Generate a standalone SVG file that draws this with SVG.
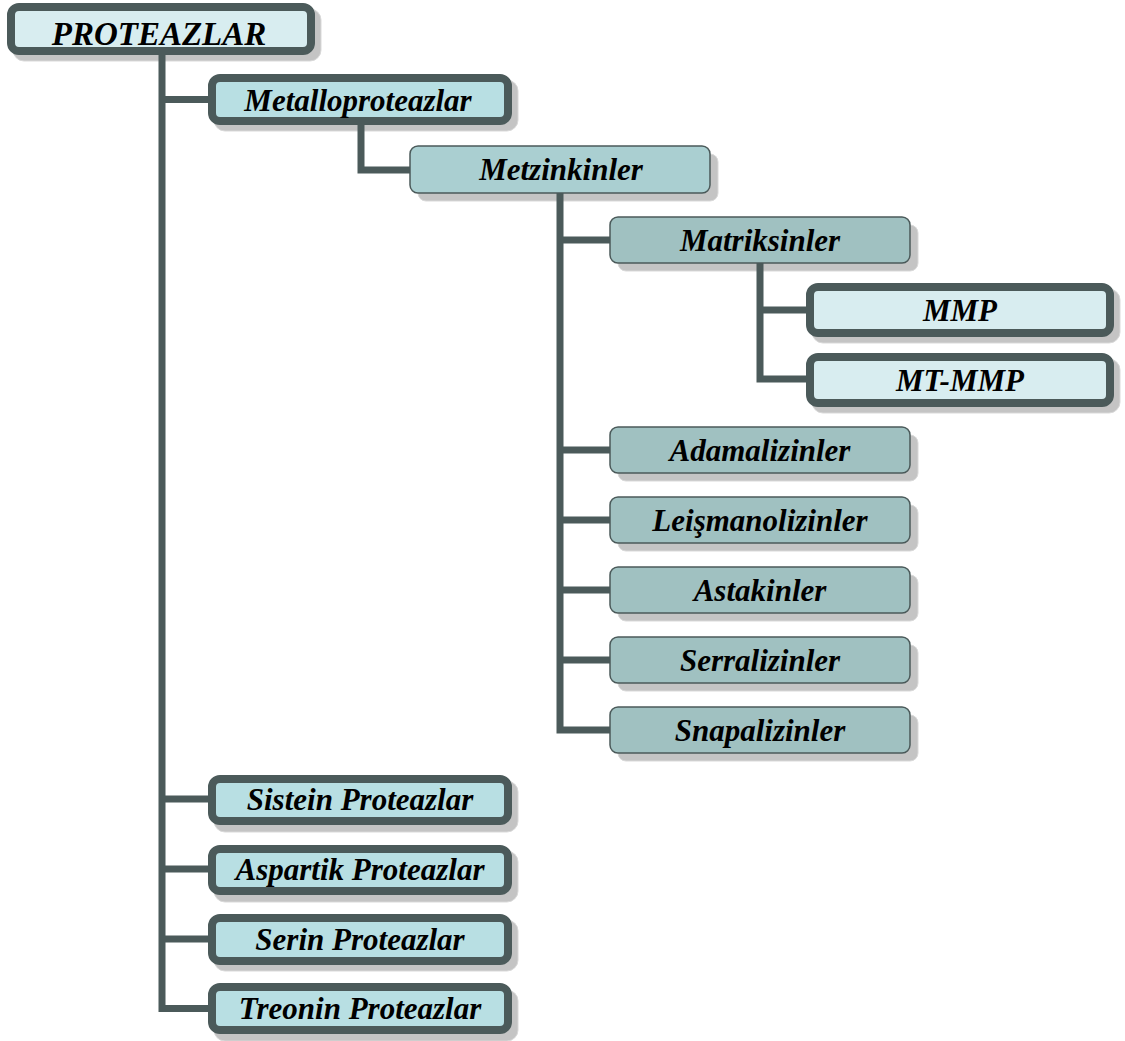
<svg xmlns="http://www.w3.org/2000/svg" width="1125" height="1041" viewBox="0 0 1125 1041">
<style>
.sh{fill:#c4c4c4;stroke:#d9d9d9;stroke-width:1}
.tk{stroke:#4b5a5a;stroke-width:8}
.tn{stroke:#4b5a5a;stroke-width:1.5}
.c1{fill:#d8edf0}
.c2{fill:#b8dfe3}
.c3{fill:#aacfd1}
.c4{fill:#a0c1c1}
text{font-family:"Liberation Serif","Times New Roman",serif;font-weight:bold;font-style:italic;font-size:31px;fill:#000;text-anchor:middle}
.big{font-size:33px}
.con{fill:none;stroke:#4b5a5a;stroke-width:7;stroke-linejoin:miter;stroke-linecap:butt}
</style>
<rect width="1125" height="1041" fill="#fff"/>
<g id="shadows">
<rect class="sh" x="13" y="9" width="308" height="52" rx="11"/>
<rect class="sh" x="214" y="80" width="304" height="51" rx="11"/>
<rect class="sh" x="418" y="154" width="300" height="47" rx="8"/>
<rect class="sh" x="618" y="225" width="300" height="46" rx="8"/>
<rect class="sh" x="812" y="289" width="308" height="54" rx="11"/>
<rect class="sh" x="812" y="359" width="308" height="54" rx="11"/>
<rect class="sh" x="618" y="435" width="300" height="46" rx="8"/>
<rect class="sh" x="618" y="505" width="300" height="46" rx="8"/>
<rect class="sh" x="618" y="575" width="300" height="46" rx="8"/>
<rect class="sh" x="618" y="645" width="300" height="46" rx="8"/>
<rect class="sh" x="618" y="715" width="300" height="46" rx="8"/>
<rect class="sh" x="214" y="781" width="304" height="51" rx="11"/>
<rect class="sh" x="214" y="851" width="304" height="51" rx="11"/>
<rect class="sh" x="214" y="920" width="304" height="51" rx="11"/>
<rect class="sh" x="214" y="990" width="304" height="51" rx="11"/>
</g>
<g id="connectors">
<path class="con" d="M162 55 V1008.5 H212"/>
<path class="con" d="M162 99.5 H212"/>
<path class="con" d="M162 799 H212"/>
<path class="con" d="M162 869 H212"/>
<path class="con" d="M162 939 H212"/>
<path class="con" d="M361 125 V170 H411"/>
<path class="con" d="M560 193 V730 H611"/>
<path class="con" d="M560 240 H611"/>
<path class="con" d="M560 450 H611"/>
<path class="con" d="M560 520 H611"/>
<path class="con" d="M560 590 H611"/>
<path class="con" d="M560 660 H611"/>
<path class="con" d="M760 263 V379 H810"/>
<path class="con" d="M760 310 H810"/>
</g>
<g id="n-proteazlar"><rect class="tk c1" x="11" y="7" width="300" height="44" rx="8"/><text class="big" x="159" y="45">PROTEAZLAR</text></g>
<g id="n-metallo"><rect class="tk c2" x="212" y="78" width="296" height="43" rx="8"/><text x="358" y="110.5">Metalloproteazlar</text></g>
<g id="n-metzinkinler"><rect class="tn c3" x="410" y="146" width="300" height="47" rx="8"/><text x="561" y="180">Metzinkinler</text></g>
<g id="n-matriksinler"><rect class="tn c4" x="610" y="217" width="300" height="46" rx="8"/><text x="760" y="250.5">Matriksinler</text></g>
<g id="n-mmp"><rect class="tk c1" x="810" y="287" width="300" height="46" rx="8"/><text x="960" y="321">MMP</text></g>
<g id="n-mtmmp"><rect class="tk c1" x="810" y="357" width="300" height="46" rx="8"/><text x="960" y="391">MT-MMP</text></g>
<g id="n-adamalizinler"><rect class="tn c4" x="610" y="427" width="300" height="46" rx="8"/><text x="760" y="460.5">Adamalizinler</text></g>
<g id="n-leismanolizinler"><rect class="tn c4" x="610" y="497" width="300" height="46" rx="8"/><text x="760" y="530.5">Leişmanolizinler</text></g>
<g id="n-astakinler"><rect class="tn c4" x="610" y="567" width="300" height="46" rx="8"/><text x="760" y="600.5">Astakinler</text></g>
<g id="n-serralizinler"><rect class="tn c4" x="610" y="637" width="300" height="46" rx="8"/><text x="760" y="670.5">Serralizinler</text></g>
<g id="n-snapalizinler"><rect class="tn c4" x="610" y="707" width="300" height="46" rx="8"/><text x="760" y="740.5">Snapalizinler</text></g>
<g id="n-sistein"><rect class="tk c2" x="212" y="779" width="296" height="42" rx="8"/><text x="360" y="810">Sistein Proteazlar</text></g>
<g id="n-aspartik"><rect class="tk c2" x="212" y="849" width="296" height="42" rx="8"/><text x="360" y="880">Aspartik Proteazlar</text></g>
<g id="n-serin"><rect class="tk c2" x="212" y="918" width="296" height="43" rx="8"/><text x="360" y="950">Serin Proteazlar</text></g>
<g id="n-treonin"><rect class="tk c2" x="212" y="987" width="296" height="43" rx="8"/><text x="360" y="1019">Treonin Proteazlar</text></g>
</svg>
